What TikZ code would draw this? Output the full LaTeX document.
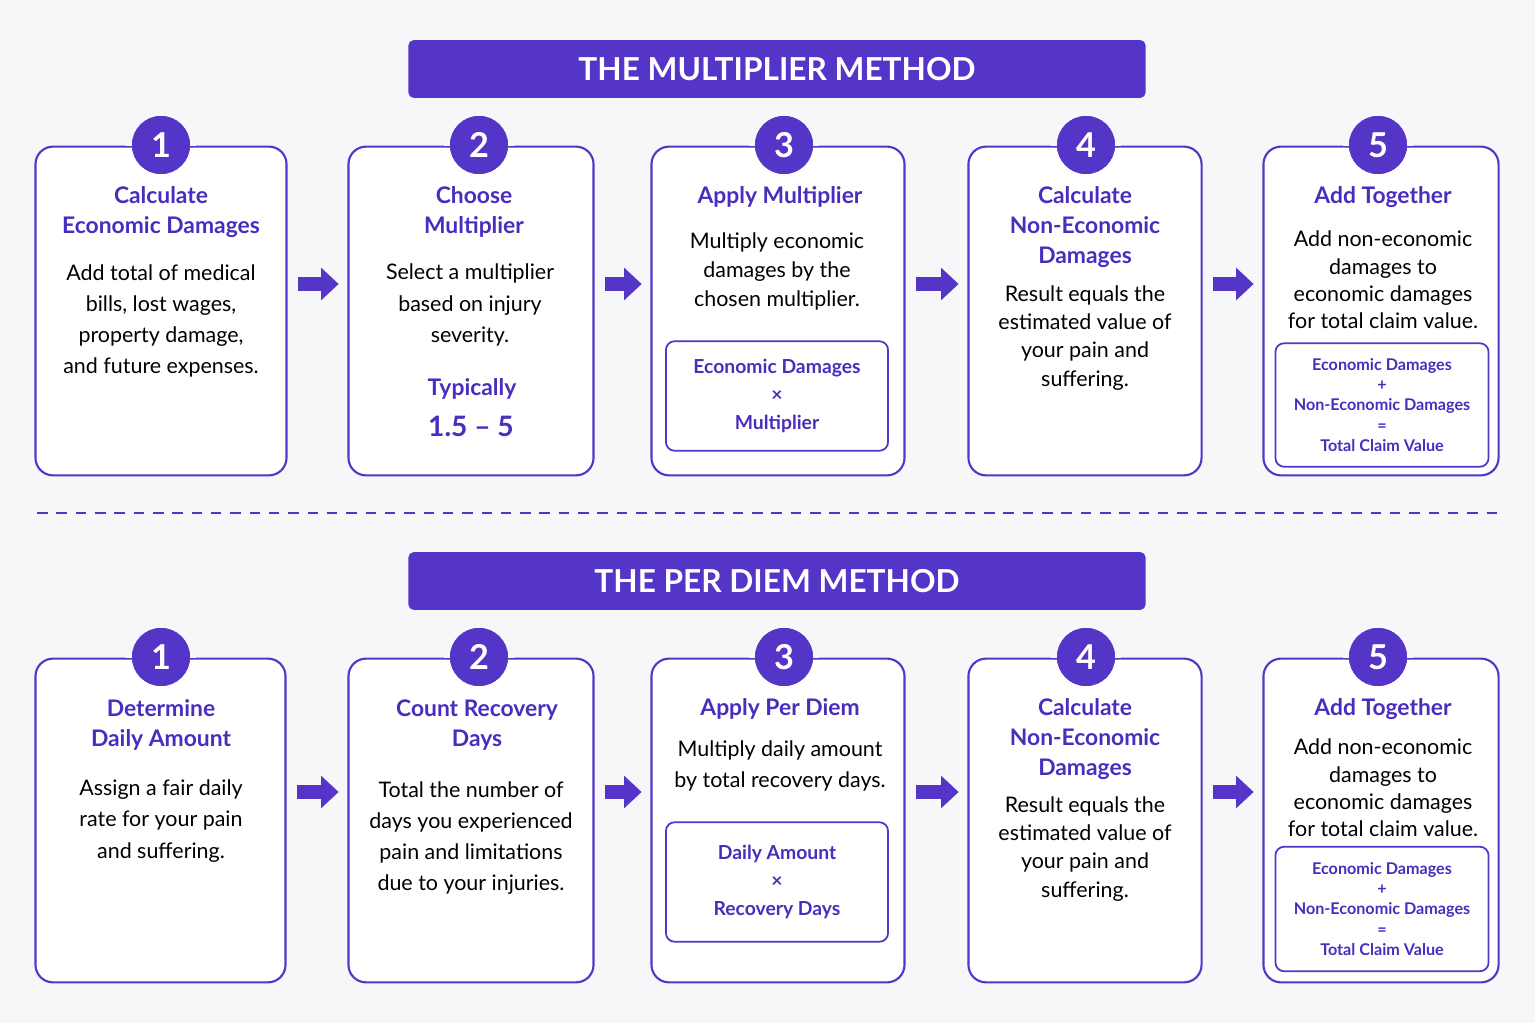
\documentclass[tikz,border=0pt]{standalone}
\usepackage{fontspec}
\setmainfont{Lato}
\usetikzlibrary{arrows.meta,positioning,calc}
\definecolor{violet}{HTML}{5535C8}
\definecolor{ink}{HTML}{4A2DBE}
\definecolor{bgcol}{HTML}{F7F7F9}
\tikzset{
  box/.style={draw=violet, line width=1.2pt, rounded corners=10pt, fill=white},
  inbox/.style={draw=violet, line width=1pt, rounded corners=5pt, fill=white},
  num/.style={circle, fill=violet, minimum size=33pt, inner sep=0pt, text=white, font=\fontsize{19.5}{20}\selectfont\bfseries},
  banner/.style={fill=violet, rounded corners=3pt, text=white, font=\fontsize{18}{20}\selectfont\bfseries, minimum width=419.6pt, minimum height=32.9pt},
  ttl/.style={text=ink, align=center, font=\fontsize{13}{17}\selectfont\bfseries},
  txt/.style={align=center, font=\fontsize{12.2}{17.8}\selectfont},
  tight/.style={font=\fontsize{12.2}{15.6}\selectfont},
  frm/.style={text=ink, align=center, font=\fontsize{11}{16}\selectfont\bfseries},
  sfrm/.style={text=ink, align=center, font=\fontsize{9.2}{11.5}\selectfont\bfseries},
  arr/.style={draw=violet, line width=7.5pt, -{Triangle[length=10pt,width=18pt]}},
}
\newcommand{\Frame}[7]{% name, x1, x2, y1, y2, number, circle x
  \node[box, minimum width={(#3-#2)*0.567pt}, minimum height={(#5-#4)*0.567pt}] (#1) at ({(#2+#3)/2},{(#4+#5)/2}) {};
  \node[num] (#1n) at (#7,{#4-1}) {#6};
  \fill[bgcol] ($(#1n.west)+(-3pt,0.6pt)$) rectangle ($(#1n.east)+(3pt,-0.6pt)$);
  \node[num] at (#1n) {#6};
}
\begin{document}
\begin{tikzpicture}[x=0.02cm, y=-0.02cm]
  \fill[bgcol] (0,0) rectangle (1535,1023);
  \useasboundingbox (0,0) rectangle (1535,1023);
  % banners and divider
  \node[banner] (top) at (777,69) {THE MULTIPLIER METHOD};
  \node[banner] (bot) at (777,581) {THE PER DIEM METHOD};
  \coordinate (dl) at (37,513);
  \coordinate (dr) at (1500,513);
  \draw[violet, line width=1.2pt, dash pattern=on 6pt off 5pt] (dl) -- (dr);
  % multiplier frames
  \Frame{m1}{35}{287}{146}{476}{1}{161}
  \Frame{m2}{348}{594}{146}{476}{2}{479}
  \Frame{m3}{651}{905}{146}{476}{3}{784}
  \Frame{m4}{968}{1202}{146}{476}{4}{1086}
  \Frame{m5}{1263}{1499}{146}{476}{5}{1378}
  % multiplier texts
  \node[ttl] (m1t) at (161,212) {Calculate\\Economic Damages};
  \node[txt] (m1b) at (161,321) {Add total of medical\\bills, lost wages,\\property damage,\\and future expenses.};
  \node[ttl] (m2t) at (474,212) {Choose\\Multiplier};
  \node[txt] (m2b) at (470,305) {Select a multiplier\\based on injury\\severity.};
  \node[ttl] (m2c) at (472,389) {Typically};
  \node[text=ink, font=\fontsize{16}{18}\selectfont\bfseries] (m2d) at (471,426) {1.5 -- 5};
  \node[ttl] (m3t) at (780,197) {Apply Multiplier};
  \node[txt, font=\fontsize{12.2}{16.5}\selectfont] (m3b) at (777,271) {Multiply economic\\damages by the\\chosen multiplier.};
  \node[inbox, minimum width={223*0.567pt}, minimum height={110*0.567pt}] (m3f) at (777,396) {};
  \node[frm] at (m3f) {Economic Damages\\×\\Multiplier};
  \node[ttl] (m4t) at (1085,227) {Calculate\\Non-Economic\\Damages};
  \node[txt, font=\fontsize{12.2}{16}\selectfont] (m4b) at (1085,338) {Result equals the\\estimated value of\\your pain and\\suffering.};
  \node[ttl] (m5t) at (1383,197) {Add Together};
  \node[txt, tight] (m5b) at (1383,280) {Add non-economic\\damages to\\economic damages\\for total claim value.};
  \node[inbox, minimum width={214*0.567pt}, minimum height={124*0.567pt}] (m5f) at (1382,405) {};
  \node[sfrm] at (m5f) {Economic Damages\\+\\Non-Economic Damages\\=\\Total Claim Value};
  % per diem frames
  \Frame{p1}{35}{286}{658}{983}{1}{161}
  \Frame{p2}{348}{594}{658}{983}{2}{479}
  \Frame{p3}{651}{905}{658}{983}{3}{784}
  \Frame{p4}{968}{1202}{658}{983}{4}{1086}
  \Frame{p5}{1263}{1499}{658}{983}{5}{1378}
  % per diem texts
  \node[ttl] (p1t) at (161,725) {Determine\\Daily Amount};
  \node[txt] (p1b) at (161,821) {Assign a fair daily\\rate for your pain\\and suffering.};
  \node[ttl] (p2t) at (477,725) {Count Recovery\\Days};
  \node[txt] (p2b) at (471,838) {Total the number of\\days you experienced\\pain and limitations\\due to your injuries.};
  \node[ttl] (p3t) at (780,709) {Apply Per Diem};
  \node[txt] (p3b) at (780,766) {Multiply daily amount\\by total recovery days.};
  \node[inbox, minimum width={223*0.567pt}, minimum height={120*0.567pt}] (p3f) at (777,882) {};
  \node[frm] at (p3f) {Daily Amount\\×\\Recovery Days};
  \node[ttl] (p4t) at (1085,739) {Calculate\\Non-Economic\\Damages};
  \node[txt, font=\fontsize{12.2}{16}\selectfont] (p4b) at (1085,849) {Result equals the\\estimated value of\\your pain and\\suffering.};
  \node[ttl] (p5t) at (1383,709) {Add Together};
  \node[txt, tight] (p5b) at (1383,788) {Add non-economic\\damages to\\economic damages\\for total claim value.};
  \node[inbox, minimum width={214*0.567pt}, minimum height={125*0.567pt}] (p5f) at (1382,909) {};
  \node[sfrm] at (p5f) {Economic Damages\\+\\Non-Economic Damages\\=\\Total Claim Value};
  % arrows
  \foreach \r/\y in {m/284, p/792} {
    \foreach \a/\b in {1/2, 2/3, 3/4, 4/5} {
      \coordinate (\r\a s) at (\r\a.east |- 0,\y);
      \coordinate (\r\a e) at (\r\b.west |- 0,\y);
      \draw[arr, shorten <=6pt, shorten >=5pt] (\r\a s) -- (\r\a e);
    }
  }
\end{tikzpicture}
\end{document}
